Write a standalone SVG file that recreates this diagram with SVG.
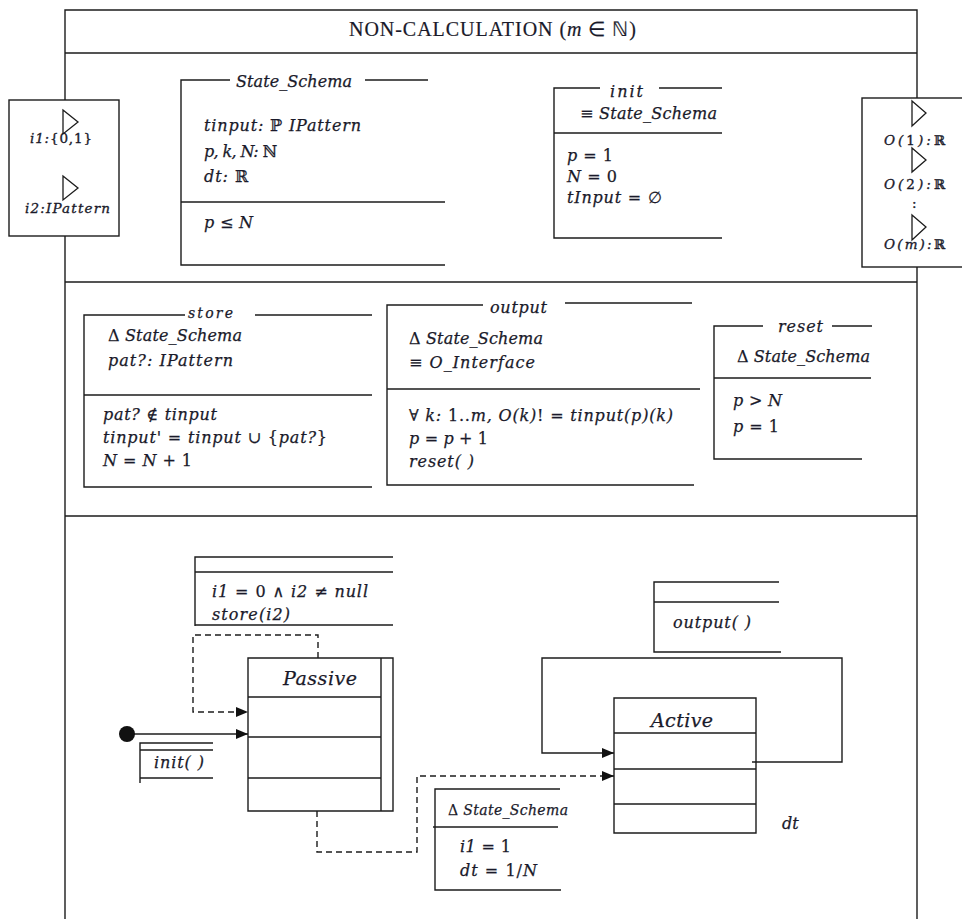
<svg xmlns="http://www.w3.org/2000/svg" width="962" height="919" viewBox="0 0 962 919">
<style>
.ln{stroke:#1c1c1c;stroke-width:1.4;fill:none}
.bx{stroke:#1c1c1c;stroke-width:1.4;fill:#fff}
.ds{stroke:#1c1c1c;stroke-width:1.4;fill:none;stroke-dasharray:6,4}
.m,.s,.p,.st{font-family:"DejaVu Serif","Liberation Serif",serif;font-style:italic;fill:#1a1a2a;stroke:#1a1a2a;stroke-width:0.25}
.m{font-size:16px}
.s{font-size:14px}
.p{font-size:13.5px;stroke-width:0.35}
.st{font-size:19px}
.t{font-family:"Liberation Serif","Times New Roman",serif;font-size:20px;fill:#1a1a2a;stroke:#1a1a2a;stroke-width:0.2}
.u{font-style:normal}
.tri{stroke:#1c1c1c;stroke-width:1.3;fill:#fff}
</style>
<defs>
<marker id="ah" viewBox="0 0 12 10" refX="12" refY="5" markerWidth="12" markerHeight="10" markerUnits="userSpaceOnUse" orient="auto">
<path d="M0,0 L12,5 L0,10 Z" fill="#111"/>
</marker>
</defs>
<rect width="962" height="919" fill="#fff"/>

<g id="frame">
<path class="ln" d="M65,919 V10 H917 V919 M65,53 H917 M65,282 H917 M65,516 H917"/>
<text class="t" x="349" y="36" textLength="287">NON-CALCULATION (<tspan font-style="italic">m</tspan> ∈ ℕ)</text>
</g>

<g id="input-port">
<rect class="bx" x="9" y="100" width="110" height="136"/>
<path class="tri" d="M63,110 L78,122 L63,134 Z"/>
<text class="p" x="30" y="143" textLength="62">i1:<tspan class="u">{0,1}</tspan></text>
<path class="tri" d="M63,176 L78,188 L63,200 Z"/>
<text class="p" x="25" y="213" textLength="85">i2:IPattern</text>
</g>

<g id="output-port">
<rect class="bx" x="862" y="98" width="110" height="169"/>
<path class="tri" d="M912,101 L926,113 L912,126 Z"/>
<text class="p" x="884" y="145" textLength="61">O(<tspan class="u">1</tspan>):<tspan class="u">ℝ</tspan></text>
<path class="tri" d="M912,148 L926,160 L912,172 Z"/>
<text class="p" x="884" y="189" textLength="61">O(<tspan class="u">2</tspan>):<tspan class="u">ℝ</tspan></text>
<text class="p u" x="912" y="208">:</text>
<path class="tri" d="M912,215 L926,227 L912,240 Z"/>
<text class="p" x="884" y="249" textLength="61">O(m):<tspan class="u">ℝ</tspan></text>
</g>

<g id="state-schema">
<path class="ln" d="M230,80 H181 V265 H445 M365,80 H428 M181,202 H445"/>
<text class="m" x="236" y="87" textLength="116">State_Schema</text>
<text class="m" x="204" y="131" textLength="157">tinput: <tspan class="u">ℙ</tspan> IPattern</text>
<text class="m" x="204" y="157" textLength="73">p, k, N: <tspan class="u">ℕ</tspan></text>
<text class="m" x="204" y="182" textLength="44">dt: <tspan class="u">ℝ</tspan></text>
<text class="m" x="204" y="228" textLength="49">p <tspan class="u">≤</tspan> N</text>
</g>

<g id="init">
<path class="ln" d="M600,88 H554 V238 H722 M659,88 H722 M554,133 H722"/>
<text class="m" x="610" y="97" textLength="33">init</text>
<text class="m" x="580" y="119" textLength="137"><tspan class="u">≡</tspan> State_Schema</text>
<text class="m" x="567" y="161" textLength="46">p <tspan class="u">= 1</tspan></text>
<text class="m" x="567" y="182" textLength="50">N <tspan class="u">= 0</tspan></text>
<text class="m" x="567" y="203" textLength="95">tInput <tspan class="u">= ∅</tspan></text>
</g>

<g id="store">
<path class="ln" d="M185,315 H84 V487 H372 M255,315 H372 M84,395 H372"/>
<text class="s" x="188" y="318" textLength="45">store</text>
<text class="m" x="108" y="341" textLength="134"><tspan class="u">Δ</tspan> State_Schema</text>
<text class="m" x="108" y="366" textLength="125">pat?: IPattern</text>
<text class="m" x="103" y="420" textLength="114">pat? <tspan class="u">∉</tspan> tinput</text>
<text class="m" x="103" y="443" textLength="224">tinput' <tspan class="u">=</tspan> tinput  <tspan class="u">∪ {</tspan>pat?<tspan class="u">}</tspan></text>
<text class="m" x="103" y="466" textLength="89">N <tspan class="u">=</tspan> N <tspan class="u">+ 1</tspan></text>
</g>

<g id="output">
<path class="ln" d="M483,305 H387 V485 H694 M565,303 H692 M387,389 H700"/>
<text class="m" x="490" y="313" textLength="57">output</text>
<text class="m" x="409" y="344" textLength="134"><tspan class="u">Δ</tspan> State_Schema</text>
<text class="m" x="409" y="368" textLength="126"><tspan class="u">≡</tspan> O_Interface</text>
<text class="m" x="409" y="421" textLength="264"><tspan class="u">∀</tspan> k: <tspan class="u">1..</tspan>m, O(k)<tspan class="u">! =</tspan> tinput(p)(k)</text>
<text class="m" x="409" y="444" textLength="79">p <tspan class="u">=</tspan> p <tspan class="u">+ 1</tspan></text>
<text class="m" x="409" y="467" textLength="65">reset( )</text>
</g>

<g id="reset">
<path class="ln" d="M763,326 H714 V459 H862 M832,326 H872 M714,378 H871"/>
<text class="m" x="778" y="332" textLength="45">reset</text>
<text class="m" x="737" y="362" textLength="133"><tspan class="u">Δ</tspan> State_Schema</text>
<text class="m" x="733" y="406" textLength="49">p <tspan class="u">&gt;</tspan> N</text>
<text class="m" x="733" y="432" textLength="46">p <tspan class="u">= 1</tspan></text>
</g>

<g id="connectors">
<path class="ds" d="M318,658 V635 H193 V712 H248" marker-end="url(#ah)"/>
<path class="ln" d="M127,734 H248" marker-end="url(#ah)"/>
<path class="ds" d="M317,811 V852 H417 V776 H614" marker-end="url(#ah)"/>
<path class="ln" d="M752,762 H842 V658 H542 V753 H614" marker-end="url(#ah)"/>
</g>

<g id="initial">
<circle cx="127" cy="734" r="8" fill="#111"/>
</g>

<g id="guard-store">
<path class="ln" d="M393,557 H195 V626 M195,572 H393 M195,625 H393"/>
<text class="m" x="212" y="597" textLength="156">i1 <tspan class="u">= 0  ∧</tspan>  i2 <tspan class="u">≠</tspan> null</text>
<text class="m" x="212" y="620" textLength="78">store(i2)</text>
</g>

<g id="init-call">
<path class="ln" d="M213,743 H140 V783 M140,750 H213 M140,778 H213"/>
<text class="m" x="154" y="768" textLength="50">init( )</text>
</g>

<g id="passive">
<path class="ln" d="M248,658 H393 V811 H248 Z M381,658 V811 M248,697 H381 M248,737 H381 M248,778 H381"/>
<text class="st" x="283" y="685" textLength="74">Passive</text>
</g>

<g id="transition-schema">
<path class="ln" d="M560,789 H435 V890 H561 M433,827 H558"/>
<text class="s" x="448" y="815" textLength="120"><tspan class="u">Δ</tspan> State_Schema</text>
<text class="m" x="460" y="852" textLength="51">i1 <tspan class="u">= 1</tspan></text>
<text class="m" x="460" y="876" textLength="77">dt <tspan class="u">= 1/</tspan>N</text>
</g>

<g id="output-call">
<path class="ln" d="M779,582 H654 V652 H781 M654,602 H779"/>
<text class="m" x="673" y="628" textLength="78">output( )</text>
</g>

<g id="active">
<path class="ln" d="M614,698 H756 V833 H614 Z M614,733 H756 M614,769 H756 M614,804 H756"/>
<text class="st" x="651" y="727" textLength="62">Active</text>
</g>

<text class="m" x="782" y="829">dt</text>
</svg>
